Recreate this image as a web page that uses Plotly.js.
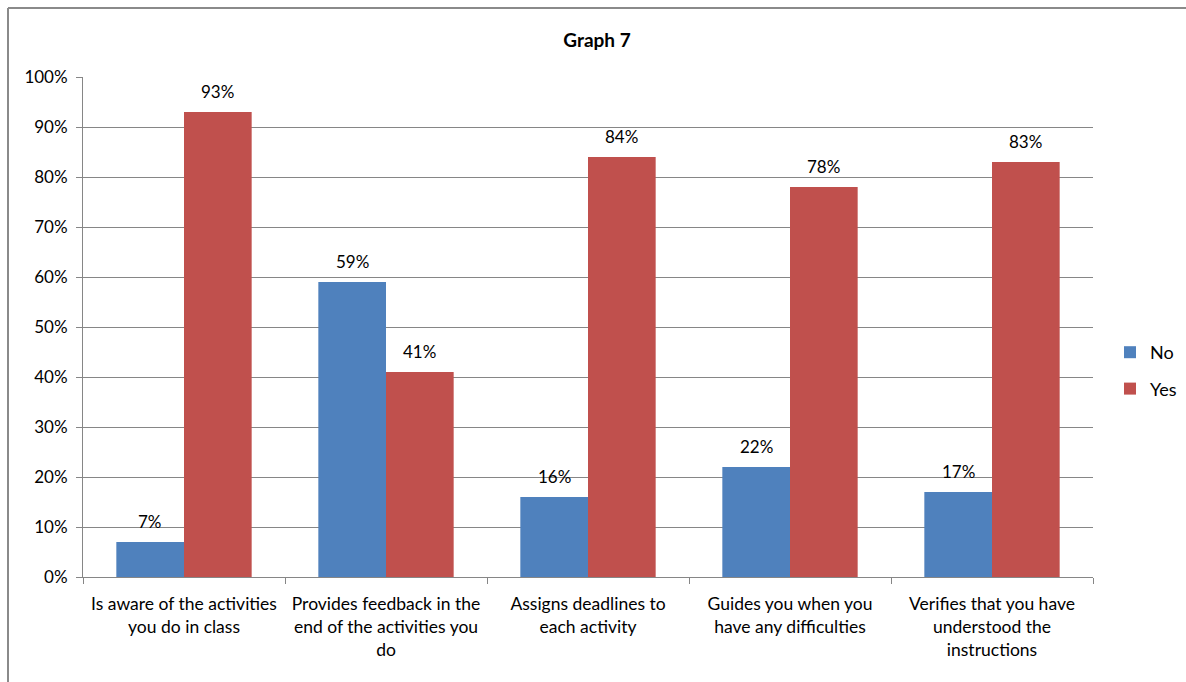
<!DOCTYPE html>
<html><head><meta charset="utf-8">
<script src="https://cdn.plot.ly/plotly-3.0.1.min.js"></script>
<style>html,body{margin:0;padding:0;background:#fff;}#chart{width:1186px;height:682px;}</style>
</head><body><div id="chart"></div>
<script>
var categories = [
  "Is aware of the activities<br>you do in class",
  "Provides feedback in the<br>end of the activities you<br>do",
  "Assigns deadlines to<br>each activity",
  "Guides you when you<br>have any difficulties",
  "Verifies that you have<br>understood the<br>instructions"
];
var noValues = [0.07, 0.59, 0.16, 0.22, 0.17];
var yesValues = [0.93, 0.41, 0.84, 0.78, 0.83];
var yTickVals = [0, 0.1, 0.2, 0.3, 0.4, 0.5, 0.6, 0.7, 0.8, 0.9, 1.0];
var yTickText = ["0%","10%","20%","30%","40%","50%","60%","70%","80%","90%","100%"];

var fontFam = "Lato, 'Open Sans', sans-serif";
var gray = "#868686";

var traces = [
  {type:"bar", name:"No", x:categories, y:noValues, marker:{color:"#4F81BD"}, hoverinfo:"none", legendgroup:"a"},
  {type:"bar", name:"Yes", x:categories, y:yesValues, marker:{color:"#C0504D"}, hoverinfo:"none", legendgroup:"b"}
];

var bargap = 0.33;
var off = (1 - bargap) / 4;
var annotations = [];
function addLabels(vals, sign) {
  vals.forEach(function(v, i) {
    annotations.push({x: i + sign * off, y: v, xref:"x", yref:"y", text: Math.round(v*100) + "%",
      showarrow:false, yanchor:"bottom", yshift:8, font:{family:fontFam, size:17, color:"#000"}});
  });
}
addLabels(noValues, -1);
addLabels(yesValues, 1);

var L = 83, R = 1093, T = 77, B = 577, W = 1186, H = 682;
function px(x){ return (x - L) / (R - L); }
function py(y){ return (B - y) / (B - T); }

var layout = {
  width: W, height: H,
  margin: {l: L, r: W - R, t: T, b: H - B, pad: 0, autoexpand: false},
  paper_bgcolor: "#fff", plot_bgcolor: "#fff",
  title: {text: "<b>Graph 7</b>", x: 597 / W, xref: "container", xanchor: "center", y: 1 - 40/H, yref: "container", yanchor: "middle",
    font: {family: fontFam, size: 19, color: "#000"}},
  barmode: "group", bargap: bargap, bargroupgap: 0,
  showlegend: true,
  legend: {xref: "container", yref: "container", x: 1110 / W, xanchor: "left", y: 1 - 334 / H, yanchor: "top",
    traceorder: "grouped", tracegroupgap: 10,
    font: {family: fontFam, size: 18, color: "#000"}, itemwidth: 30, bgcolor: "rgba(0,0,0,0)"},
  xaxis: {type: "category", showline: true, linecolor: gray, linewidth: 1, ticks: "outside",
    tickson: "boundaries", ticklen: 6, tickcolor: gray, showgrid: false, ticklabelstandoff: 11,
    tickangle: 0, tickfont: {family: fontFam, size: 17.5, color: "#000"}, automargin: false, fixedrange: true},
  yaxis: {range: [0, 1], tickvals: yTickVals, ticktext: yTickText, showline: true, linecolor: gray,
    linewidth: 1, ticks: "outside", ticklen: 6, tickcolor: gray, showgrid: true, gridcolor: gray,
    gridwidth: 1, zeroline: false, ticklabelstandoff: 5, tickfont: {family: fontFam, size: 17, color: "#000"},
    automargin: false, fixedrange: true},
  annotations: annotations,
  shapes: [
    {type: "line", xref: "paper", yref: "paper", x0: px(8), x1: px(W + 5), y0: py(8), y1: py(8),
      line: {color: "#8a8a8a", width: 2}},
    {type: "line", xref: "paper", yref: "paper", x0: px(8), x1: px(8), y0: py(8), y1: py(H + 5),
      line: {color: "#8a8a8a", width: 2}}
  ]
};

Plotly.newPlot("chart", traces, layout, {staticPlot: true, displayModeBar: false});
</script>
</body></html>
